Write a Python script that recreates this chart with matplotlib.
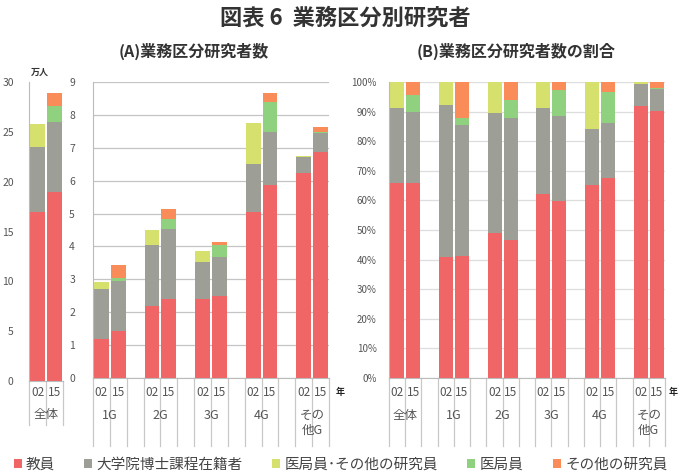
import matplotlib
matplotlib.use("Agg")
import matplotlib.pyplot as plt
import numpy as np
from matplotlib.patches import Patch
from matplotlib.transforms import blended_transform_factory
from matplotlib.ticker import FuncFormatter

plt.rcParams['font.family'] = ['Noto Sans CJK JP', 'DejaVu Sans']

group_labels = ['全体', '1G', '2G', '3G', '4G', 'その\n他G']
years = ['02', '15']
series_names = ['教員', '大学院博士課程在籍者', '医局員･その他の研究員', '医局員', 'その他の研究員']
colors = ['#F06565', '#9D9E96', '#D6E06C', '#8FD17F', '#F98C58']

# values in 万人, order: 全体02, 全体15, 1G02, 1G15, 2G02, 2G15, 3G02, 3G15, 4G02, 4G15, 他G02, 他G15
kyoin = [17.0, 19.0, 1.20, 1.42, 2.20, 2.40, 2.40, 2.48, 5.06, 5.86, 6.22, 6.88]
daigakuin = [6.5, 7.0, 1.50, 1.53, 1.83, 2.12, 1.12, 1.20, 1.46, 1.62, 0.50, 0.56]
ikyoku_sonota = [2.3, 0.0, 0.23, 0.0, 0.47, 0.0, 0.34, 0.0, 1.23, 0.0, 0.04, 0.0]
ikyoku = [0.0, 1.6, 0.0, 0.08, 0.0, 0.31, 0.0, 0.36, 0.0, 0.90, 0.0, 0.03]
sonota = [0.0, 1.3, 0.0, 0.42, 0.0, 0.32, 0.0, 0.11, 0.0, 0.30, 0.0, 0.15]

data = np.array([kyoin, daigakuin, ikyoku_sonota, ikyoku, sonota])

W, H = 681, 472
fig = plt.figure(figsize=(W / 100, H / 100), dpi=100)

def ax_px(left, top, right, bottom):
    return fig.add_axes([left / W, 1 - bottom / H, (right - left) / W, (bottom - top) / H])

tick_color = '#555555'
line_color = '#BBBBBB'

def style(ax, grid, gridcolor):
    for s in ['top', 'right']:
        ax.spines[s].set_visible(False)
    ax.spines['left'].set_color(line_color)
    ax.spines['bottom'].set_color(line_color)
    ax.tick_params(axis='y', labelsize=7.5, colors=tick_color, length=0, pad=10)
    ax.tick_params(axis='x', length=0, labelbottom=False)
    if grid:
        ax.yaxis.grid(True, color=gridcolor, lw=0.9)
        ax.set_axisbelow(True)

def draw_bars(ax, xpos, vals, width):
    bottom = np.zeros(vals.shape[1])
    for si in range(vals.shape[0]):
        v = vals[si]
        ax.bar(xpos, v, width, bottom=bottom, color=colors[si], linewidth=0)
        bottom += v

def draw_cat_axis(ax, nslots, xpos_list, gidx_list, base_px, line_bottom_px, label_top):
    tr = blended_transform_factory(ax.transData, fig.transFigure)
    for k in range(nslots + 1):
        x = k - 0.5
        ax.plot([x, x], [1 - base_px / H, 1 - line_bottom_px / H], transform=tr,
                color='#C8C8C8', lw=0.9, clip_on=False)
    for xp, gi in zip(xpos_list, gidx_list):
        for j, y in enumerate(years):
            ax.text(xp + j, 1 - 393 / H, y, transform=tr, ha='center', va='center',
                    fontsize=8.5, color=tick_color)
        ax.text(xp + 0.5, 1 - label_top / H, group_labels[gi], transform=tr, ha='center',
                va='top', fontsize=9, color=tick_color, linespacing=1.2)

# Panel 1: 全体
ax1 = ax_px(29, 82, 63, 381)
idx1 = [0, 1]
x1 = np.array([0, 1])
draw_bars(ax1, x1, data[:, idx1], 0.86)
ax1.set_xlim(-0.5, 1.5)
ax1.set_ylim(0, 30)
ax1.set_yticks(np.arange(0, 31, 5))
style(ax1, False, None)
ax1.tick_params(axis='y', pad=11)
draw_cat_axis(ax1, 2, [0], [0], 381, 425, 408)
fig.text(40 / W, 1 - 72 / H, '万人', fontsize=6.5, fontweight='bold', ha='center', va='center', color='#333333')

# Panel 2: groups
ax2 = ax_px(93, 82, 329, 378)
idx2 = list(range(2, 12))
x2 = np.array([3 * g + j for g in range(5) for j in range(2)])
draw_bars(ax2, x2, data[:, idx2], 0.88)
ax2.set_xlim(-0.5, 13.5)
ax2.set_ylim(0, 9)
ax2.set_yticks(np.arange(0, 10, 1))
style(ax2, True, '#C4C4C4')
ax2.tick_params(axis='y', pad=13)
draw_cat_axis(ax2, 14, [3 * g for g in range(5)], [1, 2, 3, 4, 5], 378, 446, 409)
fig.text(340 / W, 1 - 392 / H, '年', fontsize=6.5, fontweight='bold', ha='center', va='center', color='#222222')

# Panel 3: share
ax3 = ax_px(389, 82, 665, 378)
totals = data.sum(axis=0)
share = data / totals
x3 = np.array([3 * g + j for g in range(6) for j in range(2)])
draw_bars(ax3, x3, share, 0.86)
ax3.set_xlim(-0.5, 16.5)
ax3.set_ylim(0, 1)
ax3.set_yticks(np.arange(0, 1.01, 0.1))
ax3.yaxis.set_major_formatter(FuncFormatter(lambda v, p: f'{v * 100:.0f}%'))
style(ax3, True, '#DDDDDD')
ax3.tick_params(axis='y', labelsize=7, pad=9)
draw_cat_axis(ax3, 17, [3 * g for g in range(6)], [0, 1, 2, 3, 4, 5], 378, 446, 409)
fig.text(673 / W, 1 - 392 / H, '年', fontsize=6.5, fontweight='bold', ha='center', va='center', color='#222222')

# Titles
fig.text(345 / W, 1 - 18 / H, '図表 6  業務区分別研究者', fontsize=16, fontweight='bold',
         ha='center', va='center', color='#333333')
fig.text(194 / W, 1 - 51 / H, '(A)業務区分研究者数', fontsize=11.5, fontweight='bold',
         ha='center', va='center', color='#333333')
fig.text(516 / W, 1 - 51 / H, '(B)業務区分研究者数の割合', fontsize=11.5, fontweight='bold',
         ha='center', va='center', color='#333333')

# Legend
handles = [Patch(facecolor=c, edgecolor='none') for c in colors]
fig.legend(handles, series_names, loc='center', bbox_to_anchor=(0.5, 1 - 465 / H), ncol=5,
           frameon=False, fontsize=10.5, handlelength=0.55, handleheight=0.55, handletextpad=0.3,
           columnspacing=2.0, labelcolor='#444444')

fig.savefig('out.png', dpi=100)
